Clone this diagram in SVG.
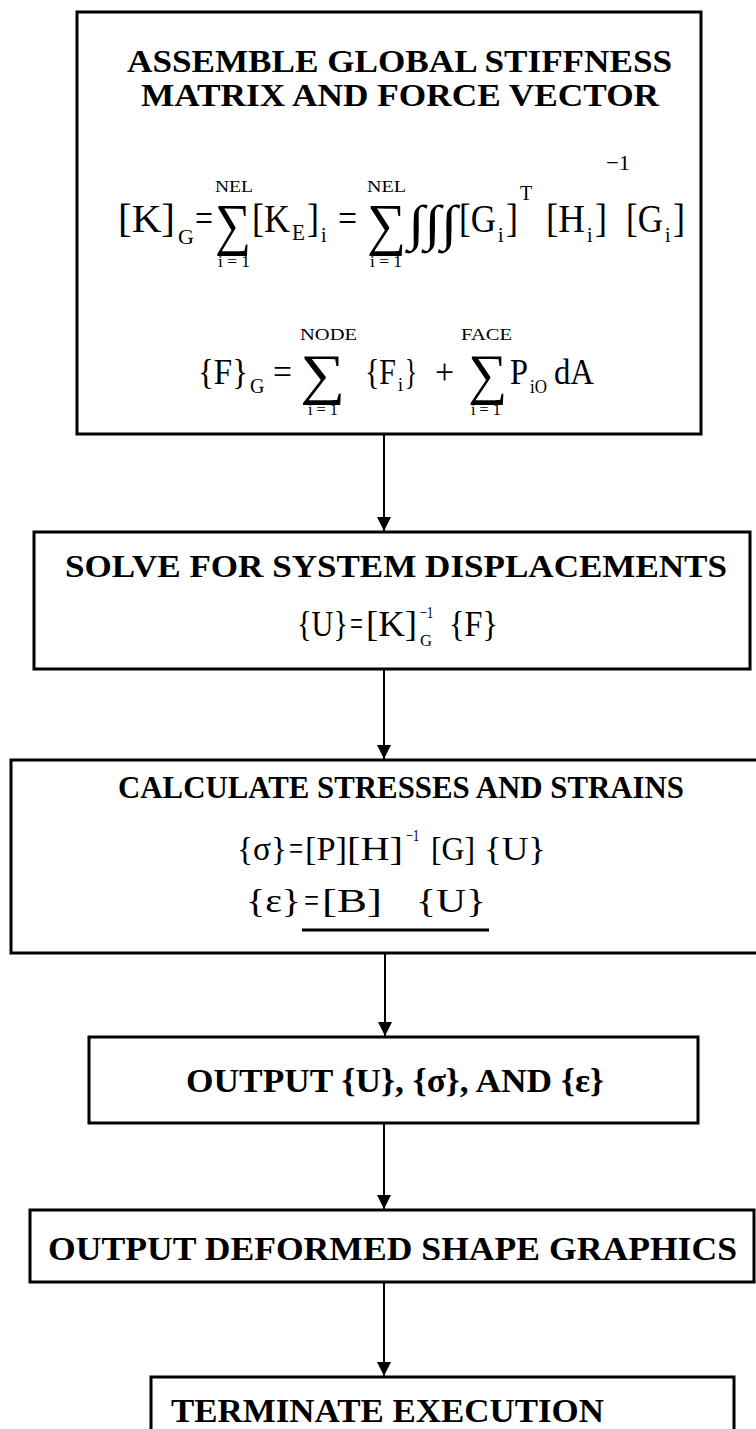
<svg xmlns="http://www.w3.org/2000/svg" width="756" height="1429" viewBox="0 0 756 1429">
<defs>
<style>
.box{fill:none;stroke:#000;stroke-width:3}
.conn{stroke:#000;stroke-width:2;fill:none}
.t{font-family:"Liberation Serif","Times New Roman",serif;font-weight:bold;fill:#000}
.m{font-family:"Liberation Serif","Times New Roman",serif;fill:#000}
</style>
<marker id="ah" markerUnits="userSpaceOnUse" markerWidth="14" markerHeight="14" refX="14" refY="7" orient="auto" viewBox="0 0 14 14">
<path d="M0,0 L14,7 L0,14 Z" fill="#000"/>
</marker>
</defs>
<rect width="756" height="1429" fill="#fff"/>

<g id="connectors">
<line class="conn" x1="384" y1="434" x2="384" y2="531" marker-end="url(#ah)"/>
<line class="conn" x1="384" y1="669" x2="384" y2="759" marker-end="url(#ah)"/>
<line class="conn" x1="385" y1="953" x2="385" y2="1036" marker-end="url(#ah)"/>
<line class="conn" x1="384" y1="1123" x2="384" y2="1209" marker-end="url(#ah)"/>
<line class="conn" x1="384" y1="1282" x2="384" y2="1376" marker-end="url(#ah)"/>
</g>

<g id="assemble">
<rect class="box" x="77" y="12" width="624" height="422"/>
<text class="t" x="127" y="72" font-size="32" textLength="545" lengthAdjust="spacingAndGlyphs">ASSEMBLE GLOBAL STIFFNESS</text>
<text class="t" x="141" y="106" font-size="32" textLength="518" lengthAdjust="spacingAndGlyphs">MATRIX AND FORCE VECTOR</text>
<text class="m" font-size="40">
<tspan x="118" y="232" textLength="57" lengthAdjust="spacingAndGlyphs">[K]</tspan><tspan x="178" y="244" font-size="22">G</tspan><tspan x="195" y="232" textLength="18" lengthAdjust="spacingAndGlyphs">=</tspan><tspan x="215" y="244" font-size="58" textLength="36" lengthAdjust="spacingAndGlyphs">∑</tspan><tspan x="215" y="192" font-size="17" textLength="38" lengthAdjust="spacingAndGlyphs">NEL</tspan><tspan x="218" y="267" font-size="17" textLength="32" lengthAdjust="spacingAndGlyphs">i = 1</tspan><tspan x="252" y="232" textLength="38" lengthAdjust="spacingAndGlyphs">[K</tspan><tspan x="292" y="240" font-size="24" textLength="13" lengthAdjust="spacingAndGlyphs">E</tspan><tspan x="307" y="232" textLength="12" lengthAdjust="spacingAndGlyphs">]</tspan><tspan x="321" y="242" font-size="20">i</tspan><tspan x="338" y="232" textLength="19" lengthAdjust="spacingAndGlyphs">=</tspan><tspan x="367" y="244" font-size="58" textLength="39" lengthAdjust="spacingAndGlyphs">∑</tspan><tspan x="367" y="192" font-size="17" textLength="39" lengthAdjust="spacingAndGlyphs">NEL</tspan><tspan x="370" y="267" font-size="17" textLength="32" lengthAdjust="spacingAndGlyphs">i = 1</tspan><tspan x="408" y="240" font-size="50" textLength="49" lengthAdjust="spacingAndGlyphs">∫∫∫</tspan><tspan x="459" y="232" textLength="37" lengthAdjust="spacingAndGlyphs">[G</tspan><tspan x="498" y="242" font-size="20">i</tspan><tspan x="506" y="232" textLength="12" lengthAdjust="spacingAndGlyphs">]</tspan><tspan x="520" y="200" font-size="20">T</tspan><tspan x="546" y="232" textLength="39" lengthAdjust="spacingAndGlyphs">[H</tspan><tspan x="587" y="242" font-size="20">i</tspan><tspan x="595" y="232" textLength="12" lengthAdjust="spacingAndGlyphs">]</tspan><tspan x="606" y="170" font-size="22" textLength="24" lengthAdjust="spacingAndGlyphs">−1</tspan><tspan x="626" y="232" textLength="37" lengthAdjust="spacingAndGlyphs">[G</tspan><tspan x="665" y="242" font-size="20">i</tspan><tspan x="673" y="232" textLength="12" lengthAdjust="spacingAndGlyphs">]</tspan>
</text>
<text class="m" font-size="36">
<tspan x="198" y="384" textLength="50" lengthAdjust="spacingAndGlyphs">{F}</tspan><tspan x="250" y="393" font-size="20">G</tspan><tspan x="273" y="384" textLength="19" lengthAdjust="spacingAndGlyphs">=</tspan><tspan x="300" y="393" font-size="56" textLength="45" lengthAdjust="spacingAndGlyphs">∑</tspan><tspan x="300" y="340" font-size="17" textLength="57" lengthAdjust="spacingAndGlyphs">NODE</tspan><tspan x="308" y="415" font-size="17" textLength="30" lengthAdjust="spacingAndGlyphs">i = 1</tspan><tspan x="365" y="384" textLength="31" lengthAdjust="spacingAndGlyphs">{F</tspan><tspan x="398" y="391" font-size="18">i</tspan><tspan x="405" y="384" textLength="12" lengthAdjust="spacingAndGlyphs">}</tspan><tspan x="435" y="384" textLength="19" lengthAdjust="spacingAndGlyphs">+</tspan><tspan x="468" y="393" font-size="56" textLength="39" lengthAdjust="spacingAndGlyphs">∑</tspan><tspan x="461" y="340" font-size="17" textLength="51" lengthAdjust="spacingAndGlyphs">FACE</tspan><tspan x="471" y="415" font-size="17" textLength="30" lengthAdjust="spacingAndGlyphs">i = 1</tspan><tspan x="510" y="384" textLength="18" lengthAdjust="spacingAndGlyphs">P</tspan><tspan x="530" y="393" font-size="18" textLength="17" lengthAdjust="spacingAndGlyphs">iO</tspan><tspan x="554" y="384" textLength="40" lengthAdjust="spacingAndGlyphs">dA</tspan>
</text>
</g>

<g id="solve">
<rect class="box" x="34" y="532" width="716" height="137"/>
<text class="t" x="65" y="577" font-size="32" textLength="662" lengthAdjust="spacingAndGlyphs">SOLVE FOR SYSTEM DISPLACEMENTS</text>
<text class="m" font-size="36">
<tspan x="297" y="636" textLength="51" lengthAdjust="spacingAndGlyphs">{U}</tspan><tspan x="350" y="636" textLength="13" lengthAdjust="spacingAndGlyphs">=</tspan><tspan x="366" y="636" textLength="51" lengthAdjust="spacingAndGlyphs">[K]</tspan><tspan x="420" y="618" font-size="17" textLength="13" lengthAdjust="spacingAndGlyphs">−1</tspan><tspan x="420" y="646" font-size="17" textLength="12" lengthAdjust="spacingAndGlyphs">G</tspan><tspan x="449" y="636" textLength="49" lengthAdjust="spacingAndGlyphs">{F}</tspan>
</text>
</g>

<g id="calculate">
<rect class="box" x="11" y="760" width="760" height="193"/>
<text class="t" x="118" y="798" font-size="32" textLength="566" lengthAdjust="spacingAndGlyphs">CALCULATE STRESSES AND STRAINS</text>
<text class="m" font-size="34">
<tspan x="237" y="860" textLength="50" lengthAdjust="spacingAndGlyphs">{σ}</tspan><tspan x="289" y="860" textLength="14" lengthAdjust="spacingAndGlyphs">=</tspan><tspan x="305" y="860" textLength="42" lengthAdjust="spacingAndGlyphs">[P]</tspan><tspan x="347" y="860" textLength="56" lengthAdjust="spacingAndGlyphs">[H]</tspan><tspan x="406" y="841" font-size="16" textLength="13" lengthAdjust="spacingAndGlyphs">−1</tspan><tspan x="431" y="860" textLength="44" lengthAdjust="spacingAndGlyphs">[G]</tspan><tspan x="484" y="860" textLength="62" lengthAdjust="spacingAndGlyphs">{U}</tspan>
</text>
<text class="m" font-size="34">
<tspan x="246" y="912" textLength="55" lengthAdjust="spacingAndGlyphs">{ε}</tspan><tspan x="304" y="912" textLength="15" lengthAdjust="spacingAndGlyphs">=</tspan><tspan x="322" y="912" textLength="60" lengthAdjust="spacingAndGlyphs">[B]</tspan><tspan x="416" y="912" textLength="70" lengthAdjust="spacingAndGlyphs">{U}</tspan>
</text>
<line x1="302" y1="930" x2="489" y2="930" stroke="#000" stroke-width="3"/>
</g>

<g id="output">
<rect class="box" x="89" y="1037" width="609" height="86"/>
<text class="t" x="186" y="1092" font-size="34" textLength="418" lengthAdjust="spacingAndGlyphs">OUTPUT {U}, {σ}, AND {ε}</text>
</g>

<g id="deformed">
<rect class="box" x="30" y="1210" width="724" height="72"/>
<text class="t" x="48" y="1260" font-size="34" textLength="689" lengthAdjust="spacingAndGlyphs">OUTPUT DEFORMED SHAPE GRAPHICS</text>
</g>

<g id="terminate">
<rect class="box" x="151" y="1377" width="583" height="80"/>
<text class="t" x="171" y="1422" font-size="34" textLength="433" lengthAdjust="spacingAndGlyphs">TERMINATE EXECUTION</text>
</g>
</svg>
